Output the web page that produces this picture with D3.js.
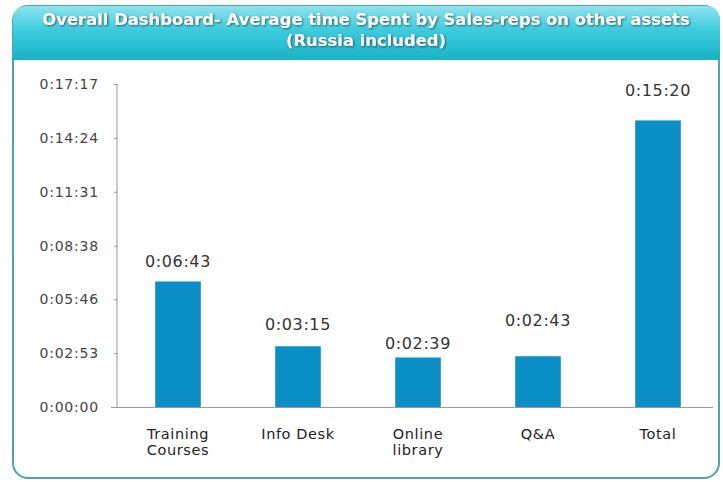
<!DOCTYPE html>
<html>
<head>
<meta charset="utf-8">
<script src="https://cdn.jsdelivr.net/npm/d3@7"></script>
<style>
  body { margin: 0; background: #fff; }
  svg { display: block; font-family: "DejaVu Sans", Arial, sans-serif; }
</style>
</head>
<body>
<div id="chart"></div>
<script>
let w = 723,
    h = 482;

// chart data (seconds)
let categories = ["Training Courses", "Info Desk", "Online library", "Q&A", "Total"];
let catLines = [["Training", "Courses"], ["Info Desk"], ["Online", "library"], ["Q&A"], ["Total"]];
let values = [403, 195, 159, 163, 920];
let valueLabels = ["0:06:43", "0:03:15", "0:02:39", "0:02:43", "0:15:20"];
let yTicks = [0, 173, 346, 518, 691, 864, 1037];
let yTickLabels = ["0:00:00", "0:02:53", "0:05:46", "0:08:38", "0:11:31", "0:14:24", "0:17:17"];
let titleLines = ["Overall Dashboard- Average time Spent by Sales-reps on other assets", "(Russia included)"];

// gap between bar top and its label baseline (labels were hand placed)
let labelGap = [14, 16, 8, 30, 24];

let svg = d3.select("#chart")
            .append("svg")
            .attr("width", w)
            .attr("height", h);

let defs = svg.append("defs");
let grad = defs.append("linearGradient")
               .attr("id", "hdr")
               .attr("x1", 0).attr("y1", 0).attr("x2", 0).attr("y2", 1);
grad.append("stop").attr("offset", "0%").attr("stop-color", "#8fe3ee");
grad.append("stop").attr("offset", "45%").attr("stop-color", "#3ccbdd");
grad.append("stop").attr("offset", "100%").attr("stop-color", "#1ab2c6");

let shadow = defs.append("filter").attr("id", "ts")
                 .attr("x", "-10%").attr("y", "-30%").attr("width", "120%").attr("height", "160%");
shadow.append("feDropShadow")
      .attr("dx", 1).attr("dy", 1).attr("stdDeviation", 0.8)
      .attr("flood-color", "#1a4f57").attr("flood-opacity", 0.9);

// panel
svg.append("rect")
   .attr("x", 13).attr("y", 6)
   .attr("width", 706).attr("height", 472)
   .attr("rx", 15)
   .attr("fill", "#fff")
   .attr("stroke", "#4aa6b1")
   .attr("stroke-width", 2);

// header banner
let hx = 13, hy = 6, hw = 707, hh = 54, r = 15;
svg.append("path")
   .attr("d", `M${hx},${hy + hh} V${hy + r} Q${hx},${hy} ${hx + r},${hy} H${hx + hw - r} Q${hx + hw},${hy} ${hx + hw},${hy + r} V${hy + hh} Z`)
   .attr("fill", "url(#hdr)");

let titles = svg.selectAll(".title")
   .data(titleLines)
   .enter()
   .append("text")
   .attr("class", "title")
   .attr("x", 366)
   .attr("y", (d, i) => 25 + i * 21)
   .attr("text-anchor", "middle")
   .attr("fill", "#fff")
   .attr("font-size", 14)
   .attr("font-weight", "bold")
   .attr("filter", "url(#ts)")
   .text(d => d);

// fit the long title line to the banner width
let len = titles.node().getComputedTextLength();
titles.attr("font-size", 14 * 648 / len);

// scales
let x = d3.scaleBand()
          .domain(categories)
          .range([118, 718])
          .paddingInner(0.62)
          .paddingOuter(0.31);

let y = d3.scaleLinear()
          .domain([0, 1037])
          .range([407, 84]);

// y axis
let yAxis = d3.axisLeft(y)
              .tickValues(yTicks)
              .tickFormat((d, i) => yTickLabels[i])
              .tickSize(3)
              .tickPadding(15);

let gy = svg.append("g")
            .attr("transform", "translate(117,0)")
            .call(yAxis);
gy.select(".domain").attr("stroke", "#999").attr("d", "M0,84V407");
gy.selectAll(".tick line").attr("stroke", "#999");
gy.selectAll(".tick text")
  .attr("fill", "#444")
  .attr("font-size", 14)
  .attr("letter-spacing", 0.8)
  .attr("font-family", "'DejaVu Sans', Arial, sans-serif");

// x axis line
svg.append("line")
   .attr("x1", 111).attr("x2", 713)
   .attr("y1", 407.5).attr("y2", 407.5)
   .attr("stroke", "#999");

// bars
svg.selectAll(".bar")
   .data(values)
   .enter()
   .append("rect")
   .attr("class", "bar")
   .attr("x", (d, i) => x(categories[i]))
   .attr("y", d => y(d))
   .attr("width", x.bandwidth())
   .attr("height", d => y(0) - y(d))
   .attr("fill", "#0a8fc6");

// value labels
svg.selectAll(".val")
   .data(values)
   .enter()
   .append("text")
   .attr("class", "val")
   .attr("x", (d, i) => x(categories[i]) + x.bandwidth() / 2)
   .attr("y", (d, i) => y(d) - labelGap[i])
   .attr("text-anchor", "middle")
   .attr("fill", "#333")
   .attr("font-size", 16)
   .attr("letter-spacing", 0.6)
   .text((d, i) => valueLabels[i]);

// category labels
let cat = svg.selectAll(".cat")
             .data(categories)
             .enter()
             .append("text")
             .attr("class", "cat")
             .attr("x", d => x(d) + x.bandwidth() / 2)
             .attr("y", 439)
             .attr("text-anchor", "middle")
             .attr("fill", "#222")
             .attr("font-size", 14.5)
             .attr("letter-spacing", 0.6);

cat.each(function (d, i) {
  d3.select(this)
    .selectAll("tspan")
    .data(catLines[i])
    .enter()
    .append("tspan")
    .attr("x", x(d) + x.bandwidth() / 2)
    .attr("dy", (t, j) => j === 0 ? 0 : 16)
    .text(t => t);
});
</script>
</body>
</html>
